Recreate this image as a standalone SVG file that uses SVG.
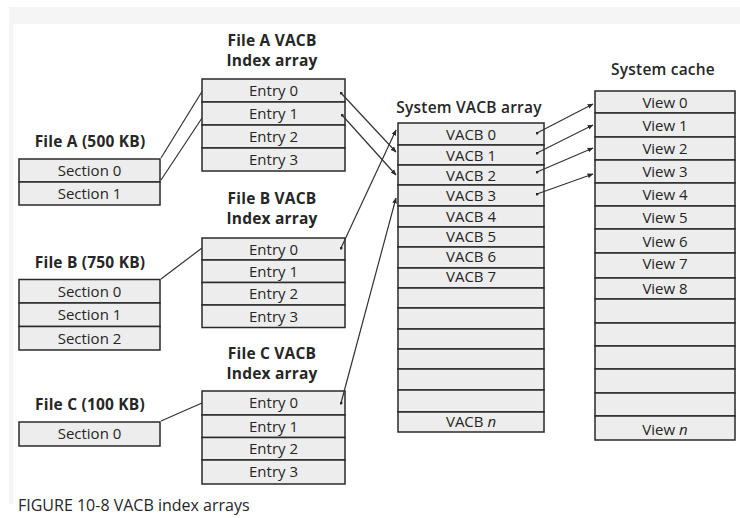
<svg xmlns="http://www.w3.org/2000/svg" width="740" height="518" viewBox="0 0 740 518">
<defs>
<style>
.bg{fill:#f5f5f5}
.cell{fill:#ededed;stroke:#2a2a2a;stroke-width:1.5}
.t{font-family:"Open Sans","DejaVu Sans",sans-serif;font-size:15px;fill:#262626;text-anchor:middle}
.h{font-family:"Open Sans","DejaVu Sans",sans-serif;font-size:15.5px;font-weight:bold;fill:#262626;text-anchor:middle;letter-spacing:0.2px}
.s{font-family:"Open Sans","DejaVu Sans",sans-serif;font-size:15.5px;font-weight:600;fill:#262626;text-anchor:middle;letter-spacing:0.2px}
.cap{font-family:"Open Sans","DejaVu Sans",sans-serif;font-size:16px;fill:#262626}
.ln{stroke:#333;stroke-width:1.2;fill:none}
.ar{stroke:#333;stroke-width:1.2;fill:none;marker-end:url(#ah);marker-start:url(#dot)}
</style>
<marker id="ah" viewBox="0 0 10 10" refX="9" refY="5" markerWidth="6" markerHeight="6" markerUnits="userSpaceOnUse" orient="auto">
<path d="M0,1 L10,5 L0,9 z" fill="#2a2a2a"/>
</marker>
<marker id="dot" viewBox="0 0 4 4" refX="2" refY="2" markerWidth="3" markerHeight="3" markerUnits="userSpaceOnUse">
<circle cx="2" cy="2" r="2" fill="#2a2a2a"/>
</marker>
</defs>
<rect x="0" y="0" width="740" height="518" fill="#fff"/>
<rect class="bg" x="9" y="7" width="731" height="17"/>
<rect class="bg" x="9" y="24" width="4" height="480"/>

<g id="fileA">
<text class="h" x="90" y="147">File A (500 KB)</text>
<rect class="cell" x="19" y="159" width="141" height="23"/><text class="t" x="89.5" y="175.5">Section 0</text>
<rect class="cell" x="19" y="182" width="141" height="23"/><text class="t" x="89.5" y="198.5">Section 1</text>
</g>

<g id="fileB">
<text class="h" x="90" y="268">File B (750 KB)</text>
<rect class="cell" x="19" y="279.5" width="141" height="23.5"/><text class="t" x="89.5" y="296.5">Section 0</text>
<rect class="cell" x="19" y="303" width="141" height="23.5"/><text class="t" x="89.5" y="320">Section 1</text>
<rect class="cell" x="19" y="326.5" width="141" height="23.5"/><text class="t" x="89.5" y="343.5">Section 2</text>
</g>

<g id="fileC">
<text class="h" x="90" y="410">File C (100 KB)</text>
<rect class="cell" x="19" y="422" width="141" height="24"/><text class="t" x="89.5" y="439">Section 0</text>
</g>

<g id="fileAIndex">
<text class="h" x="272" y="46">File A VACB</text>
<text class="h" x="272" y="66">Index array</text>
<rect class="cell" x="202" y="79" width="143" height="23"/><text class="t" x="273.5" y="96">Entry 0</text>
<rect class="cell" x="202" y="102" width="143" height="23"/><text class="t" x="273.5" y="119">Entry 1</text>
<rect class="cell" x="202" y="125" width="143" height="23"/><text class="t" x="273.5" y="142">Entry 2</text>
<rect class="cell" x="202" y="148" width="143" height="23"/><text class="t" x="273.5" y="165">Entry 3</text>
</g>

<g id="fileBIndex">
<text class="h" x="272" y="204">File B VACB</text>
<text class="h" x="272" y="224">Index array</text>
<rect class="cell" x="202" y="238" width="143" height="22"/><text class="t" x="273.5" y="254.5">Entry 0</text>
<rect class="cell" x="202" y="260" width="143" height="22.5"/><text class="t" x="273.5" y="276.5">Entry 1</text>
<rect class="cell" x="202" y="282.5" width="143" height="22.5"/><text class="t" x="273.5" y="299">Entry 2</text>
<rect class="cell" x="202" y="305" width="143" height="22.5"/><text class="t" x="273.5" y="321.5">Entry 3</text>
</g>

<g id="fileCIndex">
<text class="h" x="272" y="359">File C VACB</text>
<text class="h" x="272" y="379">Index array</text>
<rect class="cell" x="202" y="391" width="143" height="24"/><text class="t" x="273.5" y="408">Entry 0</text>
<rect class="cell" x="202" y="415" width="143" height="22.5"/><text class="t" x="273.5" y="431.5">Entry 1</text>
<rect class="cell" x="202" y="437.5" width="143" height="22.5"/><text class="t" x="273.5" y="454">Entry 2</text>
<rect class="cell" x="202" y="460" width="143" height="24"/><text class="t" x="273.5" y="477">Entry 3</text>
</g>

<g id="systemVACB">
<text class="s" x="469" y="113">System VACB array</text>
<rect class="cell" x="398" y="123" width="146" height="22"/><text class="t" x="471" y="139.5">VACB 0</text>
<rect class="cell" x="398" y="145" width="146" height="20"/><text class="t" x="471" y="160.5">VACB 1</text>
<rect class="cell" x="398" y="165" width="146" height="20"/><text class="t" x="471" y="180.5">VACB 2</text>
<rect class="cell" x="398" y="185" width="146" height="21"/><text class="t" x="471" y="200.5">VACB 3</text>
<rect class="cell" x="398" y="206" width="146" height="21"/><text class="t" x="471" y="221.5">VACB 4</text>
<rect class="cell" x="398" y="227" width="146" height="20"/><text class="t" x="471" y="242">VACB 5</text>
<rect class="cell" x="398" y="247" width="146" height="21"/><text class="t" x="471" y="261.5">VACB 6</text>
<rect class="cell" x="398" y="268" width="146" height="20"/><text class="t" x="471" y="281.5">VACB 7</text>
<rect class="cell" x="398" y="288" width="146" height="20"/>
<rect class="cell" x="398" y="308" width="146" height="21"/>
<rect class="cell" x="398" y="329" width="146" height="20"/>
<rect class="cell" x="398" y="349" width="146" height="20"/>
<rect class="cell" x="398" y="369" width="146" height="21"/>
<rect class="cell" x="398" y="390" width="146" height="22"/>
<rect class="cell" x="398" y="412" width="146" height="20"/><text class="t" x="471" y="426.5">VACB <tspan font-style="italic">n</tspan></text>
</g>

<g id="systemCache">
<text class="s" x="663" y="75">System cache</text>
<rect class="cell" x="595" y="91" width="140" height="22"/><text class="t" x="665" y="107.5">View 0</text>
<rect class="cell" x="595" y="113" width="140" height="24"/><text class="t" x="665" y="130.5">View 1</text>
<rect class="cell" x="595" y="137" width="140" height="23"/><text class="t" x="665" y="153.5">View 2</text>
<rect class="cell" x="595" y="160" width="140" height="23"/><text class="t" x="665" y="177">View 3</text>
<rect class="cell" x="595" y="183" width="140" height="23"/><text class="t" x="665" y="200">View 4</text>
<rect class="cell" x="595" y="206" width="140" height="23"/><text class="t" x="665" y="223">View 5</text>
<rect class="cell" x="595" y="229" width="140" height="24"/><text class="t" x="665" y="246.5">View 6</text>
<rect class="cell" x="595" y="253" width="140" height="25"/><text class="t" x="665" y="269">View 7</text>
<rect class="cell" x="595" y="278" width="140" height="21"/><text class="t" x="665" y="293.5">View 8</text>
<rect class="cell" x="595" y="299" width="140" height="24"/>
<rect class="cell" x="595" y="323" width="140" height="23"/>
<rect class="cell" x="595" y="346" width="140" height="23"/>
<rect class="cell" x="595" y="369" width="140" height="24"/>
<rect class="cell" x="595" y="393" width="140" height="23"/>
<rect class="cell" x="595" y="416" width="140" height="24"/><text class="t" x="665" y="434.5">View <tspan font-style="italic">n</tspan></text>
</g>

<g id="connectors">
<line class="ln" x1="161" y1="158" x2="202" y2="91.5"/>
<line class="ln" x1="161" y1="180" x2="202" y2="118"/>
<line class="ln" x1="161" y1="279" x2="202" y2="248"/>
<line class="ln" x1="161" y1="421" x2="202" y2="403"/>
<line class="ar" x1="341" y1="93" x2="396" y2="152"/>
<line class="ar" x1="342" y1="115" x2="396" y2="175"/>
<line class="ar" x1="341" y1="248" x2="396" y2="130"/>
<line class="ar" x1="341" y1="403" x2="396" y2="198"/>
<line class="ar" x1="537" y1="133" x2="593" y2="104"/>
<line class="ar" x1="537" y1="153" x2="593" y2="125"/>
<line class="ar" x1="537" y1="172" x2="593" y2="148"/>
<line class="ar" x1="537" y1="194" x2="593" y2="174"/>
</g>

<text class="cap" x="18" y="511">FIGURE 10-8 VACB index arrays</text>
</svg>
